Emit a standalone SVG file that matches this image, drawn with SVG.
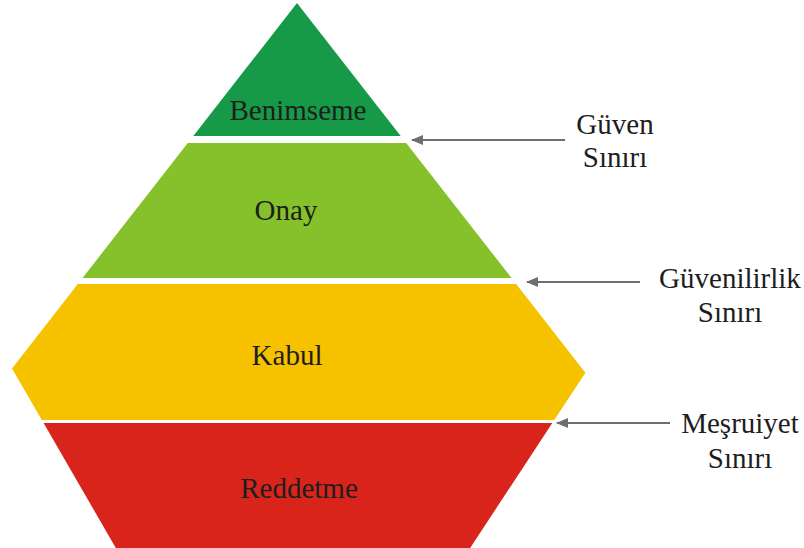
<svg xmlns="http://www.w3.org/2000/svg" width="804" height="548" viewBox="0 0 804 548">
  <style>
    .lbl { font-family: "Liberation Serif", "Times New Roman", serif; font-size: 29px; fill: #1e1e1e; text-anchor: middle; }
    .arrow { stroke: #6e6e6e; stroke-width: 2; fill: none; marker-end: url(#ah); }
  </style>
  <defs>
    <marker id="ah" viewBox="0 0 12 10" refX="11" refY="5" markerWidth="12" markerHeight="10" markerUnits="userSpaceOnUse" orient="auto">
      <path d="M0,0 L12,5 L0,10 Z" fill="#6e6e6e"/>
    </marker>
  </defs>
  <rect x="0" y="0" width="804" height="548" fill="#ffffff"/>
  <g id="benimseme">
    <polygon points="297,3 400.7,136 193.3,136" fill="#169a47"/>
    <text class="lbl" x="298" y="120">Benimseme</text>
  </g>
  <g id="onay">
    <polygon points="187.8,143 406.2,143 511.5,278 82.5,278" fill="#84c12a"/>
    <text class="lbl" x="286" y="220">Onay</text>
  </g>
  <g id="kabul">
    <polygon points="77.8,284 516.2,284 585.4,372.8 554.3,420 41.8,420 12,368.4" fill="#f6c200"/>
    <text class="lbl" x="287" y="365">Kabul</text>
  </g>
  <g id="reddetme">
    <polygon points="43.6,423 552.3,423 469.5,549 116.4,549" fill="#d9241c"/>
    <text class="lbl" x="299" y="498">Reddetme</text>
  </g>
  <g id="connectors">
    <line class="arrow" x1="565" y1="140" x2="412" y2="140"/>
    <line class="arrow" x1="640" y1="282" x2="527" y2="282"/>
    <line class="arrow" x1="670" y1="423" x2="557" y2="423"/>
  </g>
  <g id="guven-siniri">
    <text class="lbl" x="615" y="134">Güven</text>
    <text class="lbl" x="615" y="167">Sınırı</text>
  </g>
  <g id="guvenilirlik-siniri">
    <text class="lbl" x="730" y="288">Güvenilirlik</text>
    <text class="lbl" x="730" y="322">Sınırı</text>
  </g>
  <g id="mesruiyet-siniri">
    <text class="lbl" x="740" y="433">Meşruiyet</text>
    <text class="lbl" x="740" y="468">Sınırı</text>
  </g>
</svg>
